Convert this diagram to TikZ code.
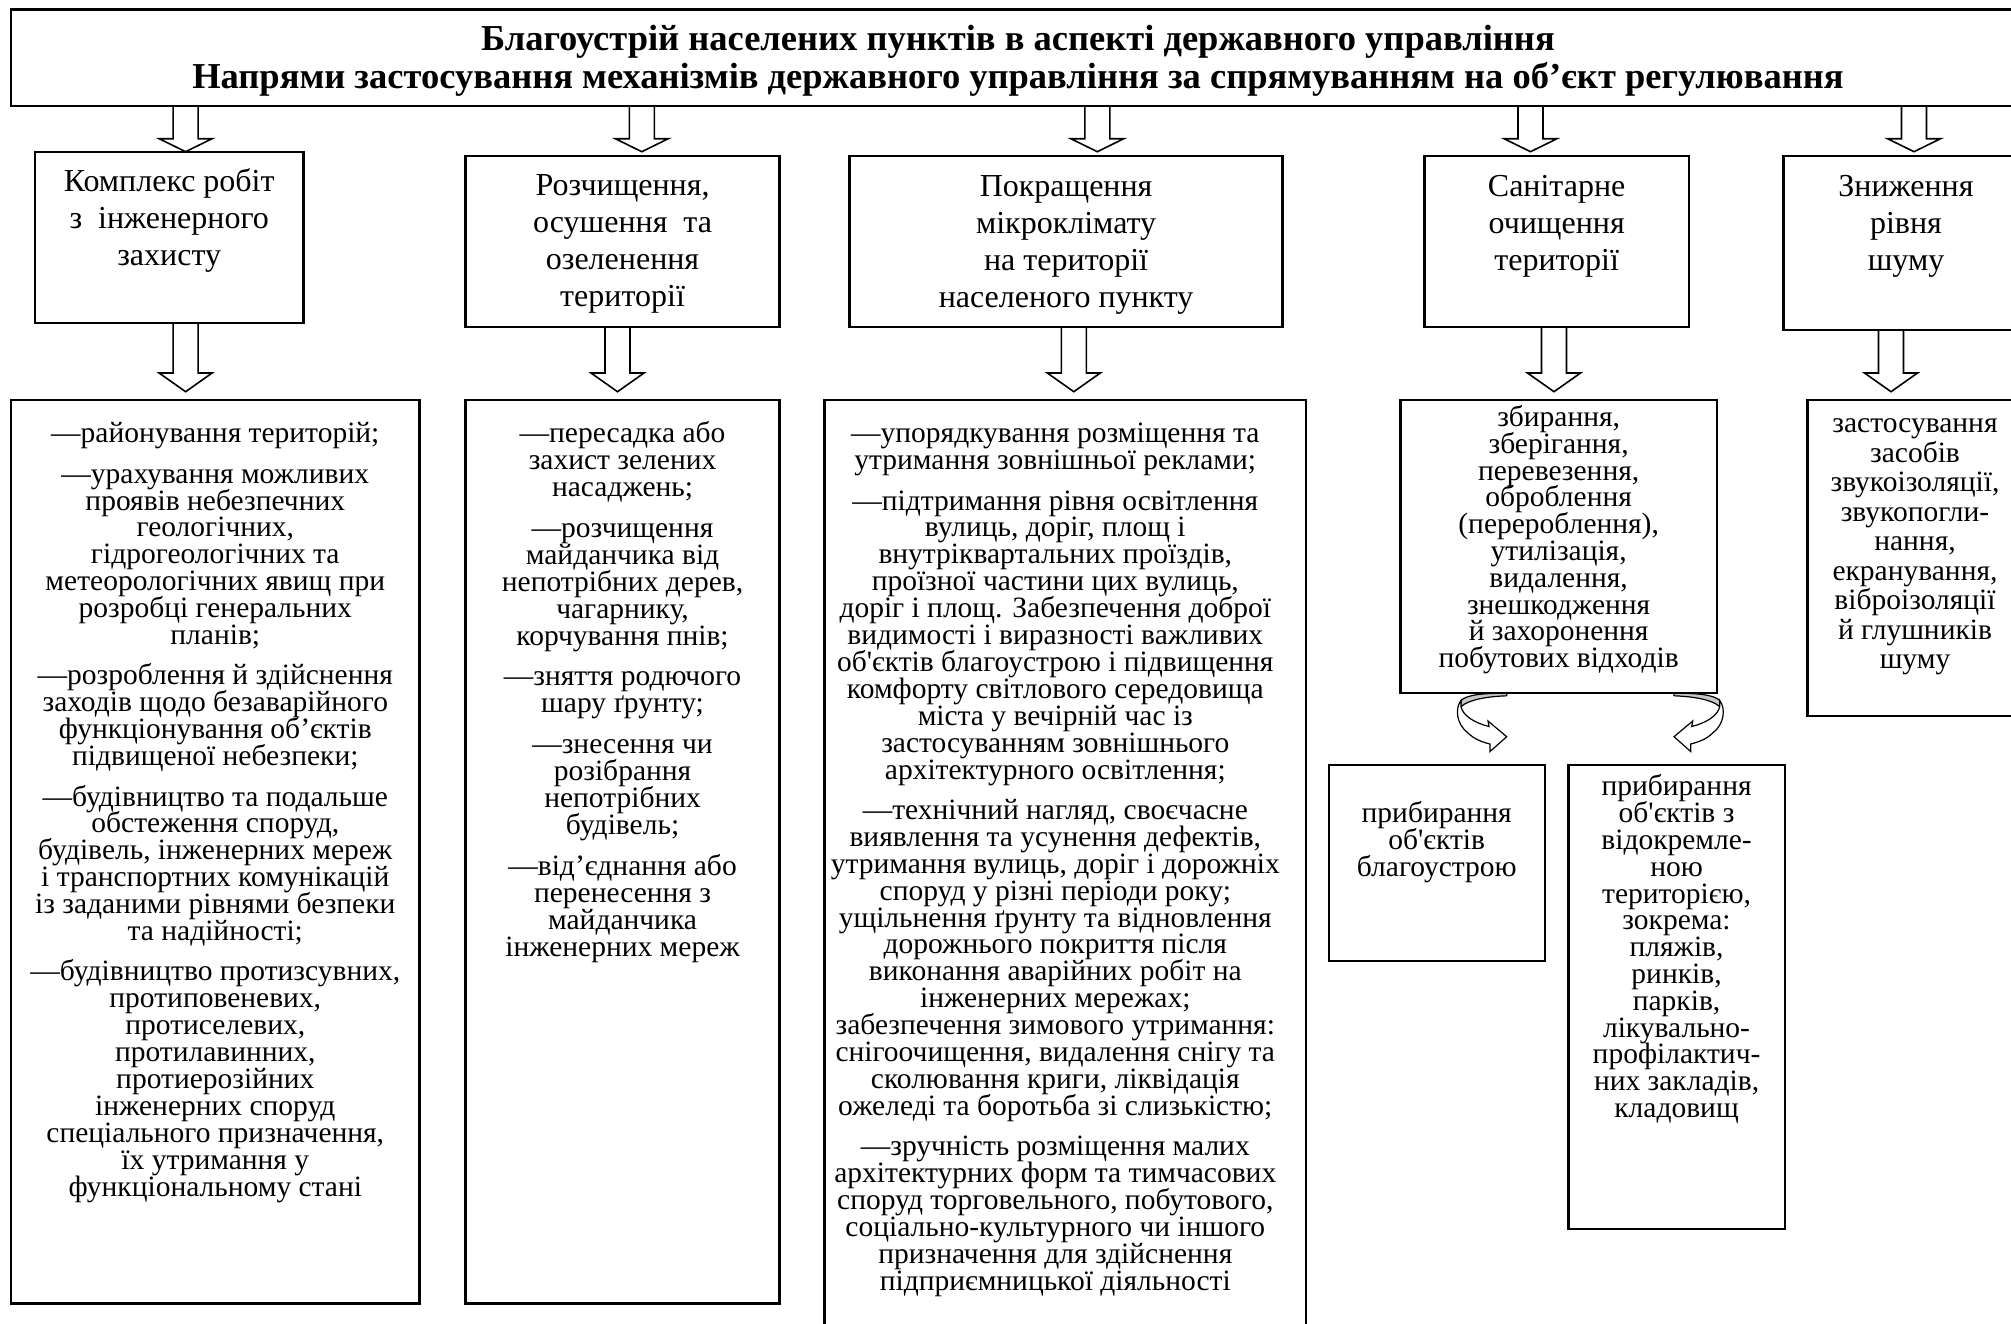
\documentclass[tikz,border=0pt]{standalone}
\usepackage{fontspec}
\setmainfont{Liberation Serif}[Ligatures=TeXOff]
\usetikzlibrary{calc}
\newcommand\tb[4]{\parbox[c][#2pt][t]{#1pt}{\centering\lineskiplimit=-1000pt\rule{0pt}{#3pt}#4}}
\newcommand\TitleF{\fontsize{36.5}{38.3}\selectfont\bfseries}
\newcommand\UpF{\fontsize{32}{37}\selectfont}
\newcommand\LoF{\fontsize{29.5}{26.9}\selectfont}
\newcommand\blockarr[5]{%
  \draw[blk] ($(#1|-#2.south)+(-12.5,0)$) -- ($(#1|-#3.north)+(-12.5,-#4-#5)$) -- ++(-14,0)
    -- ($(#1|-#3.north)+(0,-#5)$) -- ($(#1|-#3.north)+(26.5,-#4-#5)$) -- ++(-14,0)
    -- ($(#1|-#2.south)+(12.5,0)$);}
\newcommand\curvearr{%
  \filldraw[fill=black!22, draw=black, line width=1.2pt, line join=round]
    (1461,700.5) .. controls (1467,694.5) and (1484,693.2) .. (1506.7,693.2)
    -- (1506.7,695.8) .. controls (1486,696.5) and (1468,700) .. (1461,706.7) -- cycle;
  \filldraw[fill=white, draw=black, line width=1.2pt, line join=miter]
    (1461,700.5) .. controls (1455,708) and (1456,724) .. (1468,733)
    .. controls (1474,739) and (1482,742) .. (1490,744)
    -- (1490,751.5) -- (1506.7,736.7) -- (1488,721) -- (1489,726.5)
    .. controls (1475,723) and (1463,716) .. (1461,706.7) -- cycle;}
\tikzset{
  box/.style={draw, line width=2.4pt, inner sep=0pt, outer sep=0pt, anchor=north west},
  blk/.style={draw, line width=1.6pt, line join=miter}
}
\begin{document}
\begin{tikzpicture}[x=1pt,y=-1pt]
\useasboundingbox (0,0) rectangle (2011,1323);
\fill[white] (0,0) rectangle (2011,1323);

% title
\node[box] (top) at (11,9.3) {\tb{2014}{96.7}{40.7}{\TitleF Благоустрій населених пунктів в аспекті державного управління\\Напрями застосування механізмів державного управління за спрямуванням на об’єкт регулювання}};

% level 2
\node[box] (k1) at (34.8,151.7) {\tb{268.8}{171}{40}{\UpF Комплекс робіт\\з~~інженерного\\захисту}};
\node[box] (k2) at (465.6,155.7) {\tb{313.9}{171}{39.3}{\UpF Розчищення,\\осушення~~та\\озеленення\\території}};
\node[box] (k3) at (849.6,155.7) {\tb{433}{171}{40.3}{\UpF Покращення\\мікроклімату\\на території\\населеного пункту}};
\node[box] (k4) at (1424.3,155.7) {\tb{264.7}{171}{40.3}{\UpF Санітарне\\очищення\\території}};
\node[box] (k5) at (1783.6,155.7) {\tb{244.8}{174.3}{40.3}{\UpF Зниження\\рівня\\шуму}};

% level 3
\node[box] (l1) at (11,400) {\tb{408.6}{903.3}{42.7}{\LoF —районування територій;\\[13.5pt]
—урахування можливих\\проявів небезпечних\\геологічних,\\гідрогеологічних та\\метеорологічних явищ при\\розробці генеральних\\планів;\\[13.5pt]
—розроблення й здійснення\\заходів щодо безаварійного\\функціонування об’єктів\\підвищеної небезпеки;\\[13.5pt]
—будівництво та подальше\\обстеження споруд,\\будівель, інженерних мереж\\і транспортних комунікацій\\із заданими рівнями безпеки\\та надійності;\\[13.5pt]
—будівництво протизсувних,\\протиповеневих,\\протиселевих,\\протилавинних,\\протиерозійних\\інженерних споруд\\спеціального призначення,\\їх утримання у\\функціональному стані}};

\node[box] (l2) at (465.6,400) {\tb{313.9}{903.3}{42.7}{\LoF —пересадка або\\захист зелених\\насаджень;\\[14pt]
—розчищення\\майданчика від\\непотрібних дерев,\\чагарнику,\\корчування пнів;\\[14pt]
—зняття родючого\\шару ґрунту;\\[14pt]
—знесення чи\\розібрання\\непотрібних\\будівель;\\[14pt]
—від’єднання або\\перенесення з\\майданчика\\інженерних мереж}};

\node[box] (l3) at (824.6,400) {\tb{481.4}{940}{42.7}{\LoF\rightskip=20pt plus 1fil —упорядкування розміщення та\\утримання зовнішньої реклами;\\[13.5pt]
—підтримання рівня освітлення\\вулиць, доріг, площ і\\внутріквартальних проїздів,\\проїзної частини цих вулиць,\\доріг і площ. Забезпечення доброї\\видимості і виразності важливих\\об'єктів благоустрою і підвищення\\комфорту світлового середовища\\міста у вечірній час із\\застосуванням зовнішнього\\архітектурного освітлення;\\[13.5pt]
—технічний нагляд, своєчасне\\виявлення та усунення дефектів,\\утримання вулиць, доріг і дорожніх\\споруд у різні періоди року;\\ущільнення ґрунту та відновлення\\дорожнього покриття після\\виконання аварійних робіт на\\інженерних мережах;\\забезпечення зимового утримання:\\снігоочищення, видалення снігу та\\сколювання криги, ліквідація\\ожеледі та боротьба зі слизькістю;\\[13.5pt]
—зручність розміщення малих\\архітектурних форм та тимчасових\\споруд торговельного, побутового,\\соціально-культурного чи іншого\\призначення для здійснення\\підприємницької діяльності}};

\node[box] (l4) at (1400.5,400) {\tb{316.3}{292.7}{26.5}{\fontsize{29.5}{26.8}\selectfont збирання,\\зберігання,\\перевезення,\\оброблення\\(перероблення),\\утилізація,\\видалення,\\знешкодження\\й захоронення\\побутових відходів}};

\node[box] (l5) at (1807.5,400) {\tb{215}{316}{32.6}{\fontsize{29.5}{29.5}\selectfont застосування\\засобів\\звукоізоляції,\\звукопогли-\\нання,\\екранування,\\віброізоляції\\й глушників\\шуму}};

\node[box] (p1) at (1328.8,765.2) {\tb{215.9}{195.6}{57.3}{\fontsize{29.5}{26.8}\selectfont прибирання\\об'єктів\\благоустрою}};
\node[box] (p2) at (1568.4,765.2) {\tb{216.3}{463.6}{30.6}{\fontsize{29.5}{26.8}\selectfont прибирання\\об'єктів з\\відокремле-\\ною\\територією,\\зокрема:\\пляжів,\\ринків,\\парків,\\лікувально-\\профілактич-\\них закладів,\\кладовищ}};

% arrow axes
\coordinate (ax1) at (185.6,0);
\coordinate (ax2) at (641.8,0);
\coordinate (ax3) at (1097.3,0);
\coordinate (ax4) at (1530.5,0);
\coordinate (ax5) at (1914,0);
\coordinate (bx1) at (185.6,0);
\coordinate (bx2) at (617.5,0);
\coordinate (bx3) at (1073.8,0);
\coordinate (bx4) at (1554,0);
\coordinate (bx5) at (1891,0);

\blockarr{ax1}{top}{k1}{13}{0}
\blockarr{ax2}{top}{k2}{13}{4}
\blockarr{ax3}{top}{k3}{13}{4}
\blockarr{ax4}{top}{k4}{13}{4}
\blockarr{ax5}{top}{k5}{13}{4}
\blockarr{bx1}{k1}{l1}{18.7}{8.3}
\blockarr{bx2}{k2}{l2}{18.7}{8.3}
\blockarr{bx3}{k3}{l3}{18.7}{8.3}
\blockarr{bx4}{k4}{l4}{18.7}{8.3}
\blockarr{bx5}{k5}{l5}{18.7}{8.3}

% curved arrows from l4 to p1 and p2
\curvearr
\begin{scope}[xshift=3180.7pt, xscale=-1]
\curvearr
\end{scope}
\end{tikzpicture}
\end{document}
